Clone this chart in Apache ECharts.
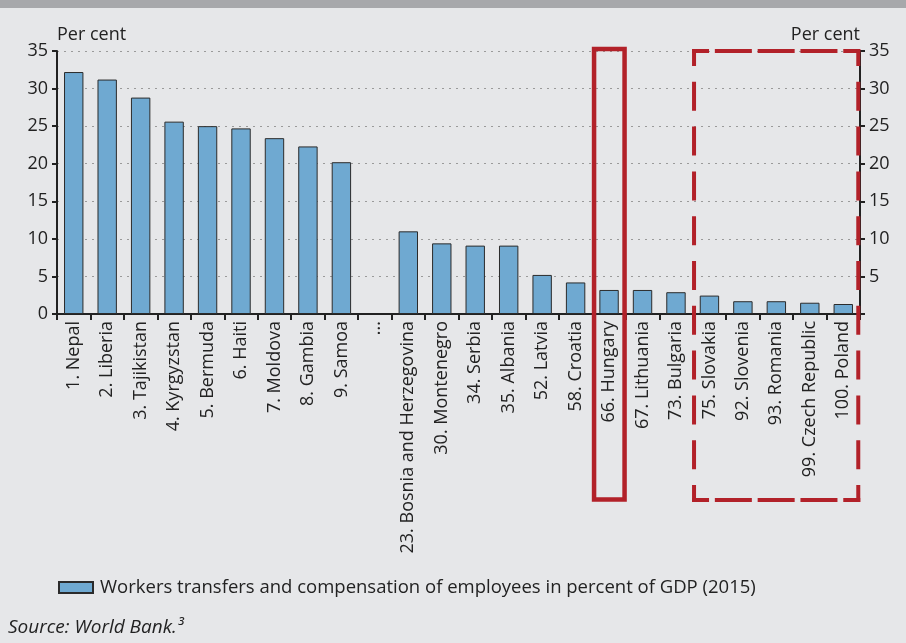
<!DOCTYPE html>
<html><head><meta charset="utf-8">
<script src="https://cdn.jsdelivr.net/npm/echarts@6/dist/echarts.min.js"></script>
<style>html,body{margin:0;padding:0;background:#e6e7e9;}#c{width:906px;height:643px;}</style>
</head><body><div id="c"></div>
<script>
const categories = ['1. Nepal','2. Liberia','3. Tajikistan','4. Kyrgyzstan','5. Bermuda','6. Haiti','7. Moldova','8. Gambia','9. Samoa','...','23. Bosnia and Herzegovina','30. Montenegro','34. Serbia','35. Albania','52. Latvia','58. Croatia','66. Hungary','67. Lithuania','73. Bulgaria','75. Slovakia','92. Slovenia','93. Romania','99. Czech Republic','100. Poland'];
const values = [32.2,31.2,28.8,25.6,25.0,24.7,23.4,22.3,20.2,null,11.0,9.4,9.1,9.1,5.2,4.2,3.2,3.2,2.9,2.45,1.7,1.7,1.5,1.33];
const yTicks = [0,5,10,15,20,25,30,35];
const seriesName = 'Workers transfers and compensation of employees in percent of GDP (2015)';
const sourceText = 'Source: World Bank.³';

const FONT = 'Open Sans';
const RED = '#b22129';
const chart = echarts.init(document.getElementById('c'));
const yMax = yTicks[yTicks.length-1];
const yAxisBase = {
  type:'value', min:yTicks[0], max:yMax, interval:5,
  axisLine:{show:true, lineStyle:{color:'#222', width:2}},
  axisTick:{show:true, length:5, lineStyle:{color:'#222', width:2}},
  axisLabel:{color:'#222', fontSize:18, fontFamily:FONT, margin:9},
  nameGap:7
};
const baseGraphic = [
  {type:'rect', left:0, top:0, shape:{width:906, height:8}, style:{fill:'#a7a8ab'}, silent:true},
  {type:'text', left:8, top:618, style:{text:sourceText, fill:'#222', font:'italic 19px "Open Sans"'}}
];
chart.setOption({
  backgroundColor:'#e6e7e9',
  animation:false,
  grid:{left:57, right:46, top:51, bottom:329, containLabel:false},
  xAxis:{
    type:'category', data:categories,
    axisLine:{lineStyle:{color:'#222', width:2}},
    axisTick:{show:true, length:6, lineStyle:{color:'#222', width:2}},
    axisLabel:{rotate:90, interval:0, color:'#222', fontSize:18, fontFamily:FONT, margin:7}
  },
  yAxis:[
    Object.assign({}, yAxisBase, {position:'left', name:'Per cent', nameLocation:'end',
      nameTextStyle:{color:'#222', fontSize:18, fontFamily:FONT, align:'left'},
      splitLine:{show:true, lineStyle:{color:'#9a9a9a', type:[2,5], width:1}}}),
    Object.assign({}, yAxisBase, {position:'right', name:'Per cent', nameLocation:'end',
      nameTextStyle:{color:'#222', fontSize:18, fontFamily:FONT, align:'right'},
      splitLine:{show:false},
      axisLabel:{color:'#222', fontSize:18, fontFamily:FONT, margin:9, formatter:v => v===0 ? '' : String(v)}})
  ],
  legend:{
    left:58, top:578, padding:0, itemWidth:34, itemHeight:11, itemGap:6,
    icon:'rect',
    textStyle:{color:'#222', fontSize:18.5, fontFamily:FONT, padding:[0,0,0,2]},
    data:[seriesName]
  },
  series:[{
    name:seriesName, type:'bar', data:values, barWidth:'58%', yAxisIndex:0,
    itemStyle:{color:'#6fa9d1', borderColor:'#2b2b2b', borderWidth:1}
  }],
  graphic:baseGraphic
});

// annotation boxes, positioned from the category axis
const hx = chart.convertToPixel({xAxisIndex:0}, '66. Hungary');
const sx = chart.convertToPixel({xAxisIndex:0}, '75. Slovakia');
const px = chart.convertToPixel({xAxisIndex:0}, '100. Poland');
const L = sx - 15.4, R = px + 15, T = 51, B = 500;
function dashedSide(x1,y1,x2,y2,dash,gap,corner){
  return {type:'line', shape:{x1:x1,y1:y1,x2:x2,y2:y2}, z:100,
    style:{stroke:RED, lineWidth:4, lineDash:[dash,gap], lineDashOffset:dash-corner-2, lineCap:'butt'}};
}
function gapFor(len, dash, corner){
  const k = Math.max(1, Math.round((len - 2*corner) / (dash + 16)));
  return {dash:dash, gap:(len - 2*corner - k*dash)/(k+1)};
}
const hz = gapFor(R-L, 37, 15), vt = gapFor(B-T, 29, 15);
chart.setOption({graphic: baseGraphic.concat([
  {type:'rect', shape:{x:hx-15, y:49, width:30.5, height:450.5}, style:{fill:'none', stroke:RED, lineWidth:4.5}, z:100},
  dashedSide(L-2, T, R+2, T, hz.dash, hz.gap, 15),
  dashedSide(L-2, B, R+2, B, hz.dash, hz.gap, 15),
  dashedSide(L, T-2, L, B+2, vt.dash, vt.gap, 15),
  dashedSide(R, T-2, R, B+2, vt.dash, vt.gap, 15)
])});
</script></body></html>
